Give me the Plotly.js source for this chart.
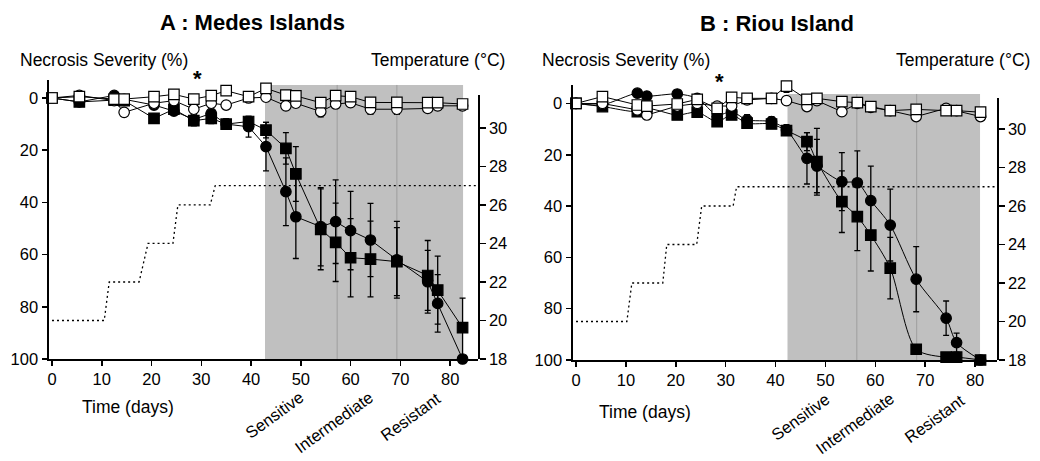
<!DOCTYPE html>
<html>
<head>
<meta charset="utf-8">
<script src="https://cdn.plot.ly/plotly-3.0.1.min.js"></script>
<style>html,body{margin:0;padding:0;background:#fff}#chart{width:1040px;height:461px}</style>
</head>
<body>
<div id="chart"></div>
<script>
// ---------- Panel A : Medes Islands ----------
const days_A = [0, 5.5, 12.5, 14.5, 20.5, 24.5, 28.5, 32, 35, 39.5, 43, 47, 49, 54, 57, 60, 64, 69.3, 75.5, 77.5, 82.5];
const A_filledCircle     = [0, 1.5, -1, 0.5, 2.7, 5, 8.2, 5.9, 10, 11, 18.6, 35.9, 45.5, 49.3, 47.4, 50.8, 54.4, 62, 70.4, 78.7, 100];
const A_filledCircle_err = [0, 1, 1, 1, 1.5, 1.5, 2, 2, 2, 4, 9.3, 13, 16, 15, 16, 15, 14, 14.7, 12, 11, 0];
const A_filledSquare     = [0, 1.5, 0.8, 1, 7.8, 4.3, 8.7, 7.8, 10, 9, 12.3, 19.3, 29.1, 50.3, 55.3, 61.2, 61.7, 62.7, 68, 73.6, 88];
const A_filledSquare_err = [0, 1, 1, 1, 1.5, 1.5, 2, 2, 2, 2, 3, 6, 10.5, 15.5, 15, 15, 14.5, 13, 13.4, 13, 11.3];
const A_openCircle       = [0, -1, 1, 5.5, 2, 1, 4.3, 2, 2.7, 0, -0.3, 3, 2, 5.2, 2.3, 1.8, 4.3, 4.3, 4, 3, 3];
const A_openCircle_err   = [0.5, 1, 1, 1.5, 1, 1, 1, 1, 1.5, 1, 1, 1.5, 1.5, 2, 1.5, 1.5, 2, 2, 1.5, 1.5, 1.5];
const A_openSquare       = [0, -0.5, 0.4, 0.4, -0.5, -1.4, 0.4, -0.9, -2.8, -0.5, -3.7, -1.1, -0.8, 1.8, -0.9, -0.5, 1.7, 1.7, 1.8, 1.8, 2.3];
const A_openSquare_err   = [0.5, 1, 1, 1, 1, 1, 1, 1, 1, 1, 1.5, 1, 1, 1.5, 1, 1, 1.5, 1.5, 1.5, 1.5, 1.5];
const tempDays_A = [0, 10.5, 11.5, 17.5, 19.3, 24.3, 25.3, 31.8, 32.8, 85.6];
const temp_A     = [20, 20, 22, 22, 24, 24, 26, 26, 27, 27];

// ---------- Panel B : Riou Island ----------
const days_B = [0, 5.3, 12.3, 14.2, 20.3, 24.3, 28.3, 31.2, 34.3, 39.2, 42.2, 46.3, 48.3, 53.3, 56.4, 59.1, 63, 68.2, 74.2, 76.3, 81.1];
const B_filledCircle     = [0, 0.5, -4, -2.9, -3.7, -2, 4.5, 3.2, 6.4, 7.1, 10.3, 21.4, 24.4, 30.5, 30.9, 37.9, 47.4, 68.5, 83.7, 93.2, 100];
const B_filledCircle_err = [0, 1, 1.5, 1.5, 1.5, 1, 2, 1.5, 2, 2, 2, 10, 10.4, 11.3, 12.4, 13.5, 14, 12.7, 6.7, 3.7, 0];
const B_filledSquare     = [0, 1.2, 3.2, 1.9, 4.5, 3.4, 7.1, 4.5, 7.7, 8, 10.6, 14.9, 22.7, 38.3, 44.1, 51.3, 64.2, 95.8, 98.9, 98.9, 100];
const B_filledSquare_err = [0, 1, 1.5, 1, 1.5, 1, 1.5, 1.5, 1.5, 1.5, 1.5, 3.5, 13, 12, 13.3, 14, 12, 1, 0.5, 0.5, 0];
const B_openCircle       = [0, 0, 2.5, 4.5, 1, 0, 1, 1, -1.4, -2, -1.1, 1.2, -1.1, 3.2, 0, 1.5, 2.8, 5.1, 1.9, 2.8, 5.1];
const B_openCircle_err   = [0.5, 1, 1, 1, 1, 1, 1, 1, 1, 1, 1, 1.5, 1, 1.5, 1, 1.5, 1.5, 1.5, 1.5, 1.5, 1.5];
const B_openSquare       = [0, -2.7, 0.6, 1.0, 0.2, -1.6, 1.9, -2.4, -2.0, -2.0, -6.8, -1.6, -2.0, -0.7, -0.3, 1.2, 2.8, 2.3, 2.8, 2.8, 3.4];
const B_openSquare_err   = [0.5, 1, 1, 1, 1, 1, 1, 1, 1, 1, 2.5, 1, 1, 1.5, 1, 1, 1.5, 1.5, 1.5, 1.5, 1.5];
const tempDays_B = [0, 10.2, 11.2, 17.4, 18.2, 24.2, 25.2, 31.5, 32.2, 84.4];
const temp_B     = [20, 20, 22, 22, 24, 24, 26, 26, 27, 27];

// ---------- Text / ticks ----------
const titles = ['A : Medes Islands', 'B : Riou Island'];
const leftAxisLabel = 'Necrosis Severity (%)';
const rightAxisLabel = 'Temperature (°C)';
const xAxisLabel = 'Time (days)';
const phaseLabels = ['Sensitive', 'Intermediate', 'Resistant'];
const xTicks = [0, 10, 20, 30, 40, 50, 60, 70, 80];
const sevTicks = [0, 20, 40, 60, 80, 100];
const tempTicks = [18, 20, 22, 24, 26, 28, 30];

const FONT = 'Liberation Sans, Arial, Helvetica, sans-serif';
const W = 1040, H = 461;
const px = v => v / W;
const py = v => (H - v) / H;

function series(x, y, err, xa, ya, symbol, filled, spline) {
  return {
    x: x, y: y, xaxis: xa, yaxis: ya, type: 'scatter', mode: 'lines+markers',
    cliponaxis: false, showlegend: false, hoverinfo: 'skip',
    line: {color: '#000', width: 1, shape: spline ? 'spline' : 'linear', smoothing: 0.8},
    marker: {symbol: symbol, size: 10.5, color: filled ? '#000' : '#fff', line: {color: '#000', width: 1.2}},
    error_y: {type: 'data', array: err, visible: true, color: '#000', thickness: 1.3, width: 3}
  };
}
function tempTrace(x, y, xa, ya) {
  return {x: x, y: y, xaxis: xa, yaxis: ya, type: 'scatter', mode: 'lines', showlegend: false,
    hoverinfo: 'skip', line: {color: '#000', width: 1.3, dash: '2px,3px'}};
}

const data = [
  series(days_A, A_filledCircle, A_filledCircle_err, 'x', 'y', 'circle', true, false),
  series(days_A, A_filledSquare, A_filledSquare_err, 'x', 'y', 'square', true, false),
  series(days_A, A_openCircle, A_openCircle_err, 'x', 'y', 'circle', false, false),
  series(days_A, A_openSquare, A_openSquare_err, 'x', 'y', 'square', false, false),
  tempTrace(tempDays_A, temp_A, 'x', 'y2'),
  series(days_B, B_filledCircle, B_filledCircle_err, 'x2', 'y4', 'circle', true, true),
  series(days_B, B_filledSquare, B_filledSquare_err, 'x2', 'y4', 'square', true, true),
  series(days_B, B_openCircle, B_openCircle_err, 'x2', 'y4', 'circle', false, false),
  series(days_B, B_openSquare, B_openSquare_err, 'x2', 'y4', 'square', false, false),
  tempTrace(tempDays_B, temp_B, 'x2', 'y5')
];

const tickFont = {family: FONT, size: 16.5, color: '#000'};
function xAxis(domain, range, anchor) {
  return {domain: domain, range: range, anchor: anchor, tickvals: xTicks, ticks: 'outside', ticklen: 5,
    tickwidth: 1.5, tickcolor: '#000', showline: true, linecolor: '#000', linewidth: 1.6,
    showgrid: false, zeroline: false, tickfont: tickFont, fixedrange: true};
}
function sevAxis(domain, range, anchor) {
  return {domain: domain, range: range, anchor: anchor, tickvals: sevTicks, ticks: 'outside', ticklen: 5,
    tickwidth: 1.5, tickcolor: '#000', showline: true, linecolor: '#000', linewidth: 1.6,
    showgrid: false, zeroline: false, tickfont: tickFont, ticklabelstandoff: 1};
}
function tempAxis(domain, range, anchor) {
  return {domain: domain, range: range, anchor: anchor, side: 'right', tickvals: tempTicks, ticks: 'outside',
    ticklen: 6, tickwidth: 1.5, tickcolor: '#000', showline: true, linecolor: '#000', linewidth: 1.6,
    showgrid: false, zeroline: false, tickfont: tickFont};
}
function crossAxis(over, range, anchor) {
  return {overlaying: over, range: range, anchor: anchor, side: 'right', tickvals: tempTicks, ticks: 'inside',
    ticklen: 6, tickwidth: 1.5, tickcolor: '#000', showline: false, showticklabels: false,
    showgrid: false, zeroline: false};
}

const shapes = [];
function shade(xa, ya, x0, x1, top, dividers) {
  shapes.push({type: 'rect', xref: xa, yref: ya, x0: x0, x1: x1, y0: 100, y1: top,
    fillcolor: '#c0c0c0', line: {width: 0}, layer: 'below'});
  dividers.forEach(d => shapes.push({type: 'line', xref: xa, yref: ya, x0: d, x1: d, y0: 100, y1: top,
    line: {color: '#9e9e9e', width: 1}, layer: 'below'}));
}
shade('x', 'y', 42.8, 82.6, -5, [57.3, 69.3]);
shade('x2', 'y4', 42.4, 81, -3.7, [56.3, 68.3]);

const txt = (size) => ({family: FONT, size: size, color: '#000'});
const annotations = [
  {text: '<b>' + titles[0] + '</b>', x: px(252), y: py(22), font: txt(22)},
  {text: '<b>' + titles[1] + '</b>', x: px(777), y: py(23), font: txt(22)},
  {text: leftAxisLabel, x: px(18), y: py(60), xanchor: 'left', font: txt(17.5)},
  {text: rightAxisLabel, x: px(507), y: py(60), xanchor: 'right', font: txt(17.5)},
  {text: leftAxisLabel, x: px(540), y: py(60), xanchor: 'left', font: txt(17.5)},
  {text: rightAxisLabel, x: px(1032), y: py(60), xanchor: 'right', font: txt(17.5)},
  {text: '<b>*</b>', x: px(197), y: py(79), font: txt(22)},
  {text: '<b>*</b>', x: px(719), y: py(82), font: txt(22)},
  {text: xAxisLabel, x: px(128), y: py(407), font: txt(17.5)},
  {text: xAxisLabel, x: px(645), y: py(412), font: txt(17.5)},
  {text: phaseLabels[0], x: px(274), y: py(415), font: txt(16.5), textangle: -36},
  {text: phaseLabels[1], x: px(334), y: py(422), font: txt(16.5), textangle: -36},
  {text: phaseLabels[2], x: px(410), y: py(417), font: txt(16.5), textangle: -36},
  {text: phaseLabels[0], x: px(800), y: py(417), font: txt(16.5), textangle: -36},
  {text: phaseLabels[1], x: px(855), y: py(423), font: txt(16.5), textangle: -36},
  {text: phaseLabels[2], x: px(934), y: py(419), font: txt(16.5), textangle: -36}
].map(a => Object.assign({xref: 'paper', yref: 'paper', showarrow: false, xanchor: 'center', yanchor: 'middle'}, a));

const layout = {
  width: W, height: H, margin: {l: 0, r: 0, t: 0, b: 0},
  paper_bgcolor: '#fff', plot_bgcolor: 'rgba(0,0,0,0)', showlegend: false,
  font: {family: FONT, color: '#000'},
  xaxis: xAxis([px(49), px(478)], [-0.6, 85.6], 'y'),
  yaxis: sevAxis([py(359), py(80)], [100, -6.9], 'x'),
  yaxis2: tempAxis([py(359), py(95)], [18, 31.71], 'x'),
  yaxis3: crossAxis('y2', [18, 31.71], 'x'),
  xaxis2: xAxis([px(573), px(997)], [-0.6, 84.4], 'y4'),
  yaxis4: sevAxis([py(360), py(85)], [100, -7.2], 'x2'),
  yaxis5: tempAxis([py(360), py(98)], [18, 31.61], 'x2'),
  yaxis6: crossAxis('y5', [18, 31.61], 'x2'),
  shapes: shapes,
  annotations: annotations
};

Plotly.newPlot('chart', data, layout, {displayModeBar: false, staticPlot: true});
</script>
</body>
</html>
